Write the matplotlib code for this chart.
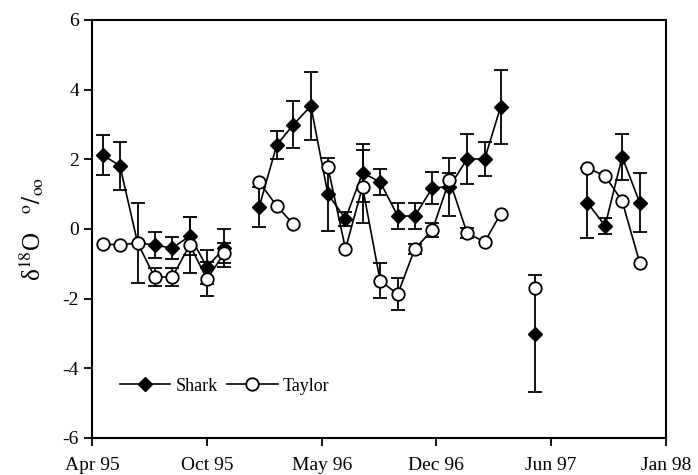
import matplotlib
matplotlib.use("Agg")
import matplotlib.pyplot as plt
import numpy as np
import datetime as dt
import matplotlib.dates as mdates

nan = np.nan

# Monthly samples, Apr 1995 - Nov 1997
months = [(1995, m) for m in range(4, 13)] + [(1996, m) for m in range(1, 13)] + \
         [(1997, m) for m in range(1, 12)]
dates = [dt.date(y, m, 20) for y, m in months]

shark = [2.12, 1.81, -0.40, -0.46, -0.55, -0.20, -1.09, -0.55, nan,
         0.63, 2.41, 2.99, 3.53, 1.00, 0.29, 1.61, 1.35, 0.37, 0.37, 1.18, 1.21,
         2.01, 2.01, 3.50, nan, -3.01, nan, nan, 0.75, 0.09, 2.07, 0.75]
shark_err = [0.57, 0.68, 1.15, 0.37, 0.32, 0.55, 0.50, 0.55, nan,
             0.58, 0.40, 0.67, 0.97, 1.05, 0.20, 0.83, 0.38, 0.38, 0.38, 0.45, 0.84,
             0.73, 0.50, 1.07, nan, 1.68, nan, nan, 1.00, 0.23, 0.66, 0.85]

taylor = [-0.43, -0.46, -0.40, -1.38, -1.38, -0.46, -1.44, -0.69, nan,
          1.35, 0.66, 0.14, nan, 1.78, -0.57, 1.21, -1.49, -1.87, -0.57, -0.03, 1.41,
          -0.12, -0.37, 0.43, nan, -1.69, nan, nan, 1.75, 1.52, 0.80, -0.97]
taylor_err = [nan, nan, nan, 0.25, 0.25, 0.80, 0.48, 0.30, nan,
              nan, nan, nan, nan, nan, nan, 1.05, 0.50, 0.45, 0.15, 0.20, 0.20,
              0.15, nan, nan, nan, nan, nan, nan, nan, nan, nan, nan]

tick_labels = ["Apr 95", "Oct 95", "May 96", "Dec 96", "Jun 97", "Jan 98"]

plt.rcParams['font.family'] = ['Liberation Serif', 'DejaVu Serif']
plt.rcParams['mathtext.fontset'] = 'stix'

fig = plt.figure(figsize=(6.98, 4.75), dpi=100)
ax = fig.add_axes([0.132, 0.078, 0.822, 0.880])

x = mdates.date2num(dates)

ax.errorbar(x, shark, yerr=shark_err, fmt='none', ecolor='black',
            elinewidth=1.3, capsize=5, capthick=1.3, zorder=2)
ax.errorbar(x, taylor, yerr=taylor_err, fmt='none', ecolor='black',
            elinewidth=1.3, capsize=5, capthick=1.3, zorder=2)
ax.plot(x, shark, '-', color='black', lw=1.2, marker='D', ms=7,
        mfc='black', mec='black', label='Shark', zorder=3)
ax.plot(x, taylor, '-', color='black', lw=1.2, marker='o', ms=9,
        mfc='white', mec='black', mew=1.3, label='Taylor', zorder=4)

x0 = mdates.date2num(dt.date(1995, 4, 1))
x1 = mdates.date2num(dt.date(1998, 1, 5))
ax.set_xlim(x0, x1)
ax.set_xticks(np.linspace(x0, x1, 6))
ax.set_xticklabels(tick_labels)
ax.set_ylim(-6, 6)
ax.set_yticks([-6, -4, -2, 0, 2, 4, 6])
ax.set_yticklabels(["-6", "-4", "-2", "0", "2", "4", "6"])

ax.tick_params(direction='out', length=6, width=1.3, labelsize=14, top=False, right=False)
ax.tick_params(axis='x', pad=8)
for s in ax.spines.values():
    s.set_linewidth(1.5)

ax.set_ylabel('δ$^{18}$O   $^{\\rm o}/_{\\rm oo}$', fontsize=18, labelpad=12)

ax.legend(loc='lower left', bbox_to_anchor=(0.02, 0.065), ncol=2, frameon=False,
          fontsize=13, handlelength=2.8, columnspacing=0.5, handletextpad=0.3)

fig.savefig("out.png", dpi=100)
